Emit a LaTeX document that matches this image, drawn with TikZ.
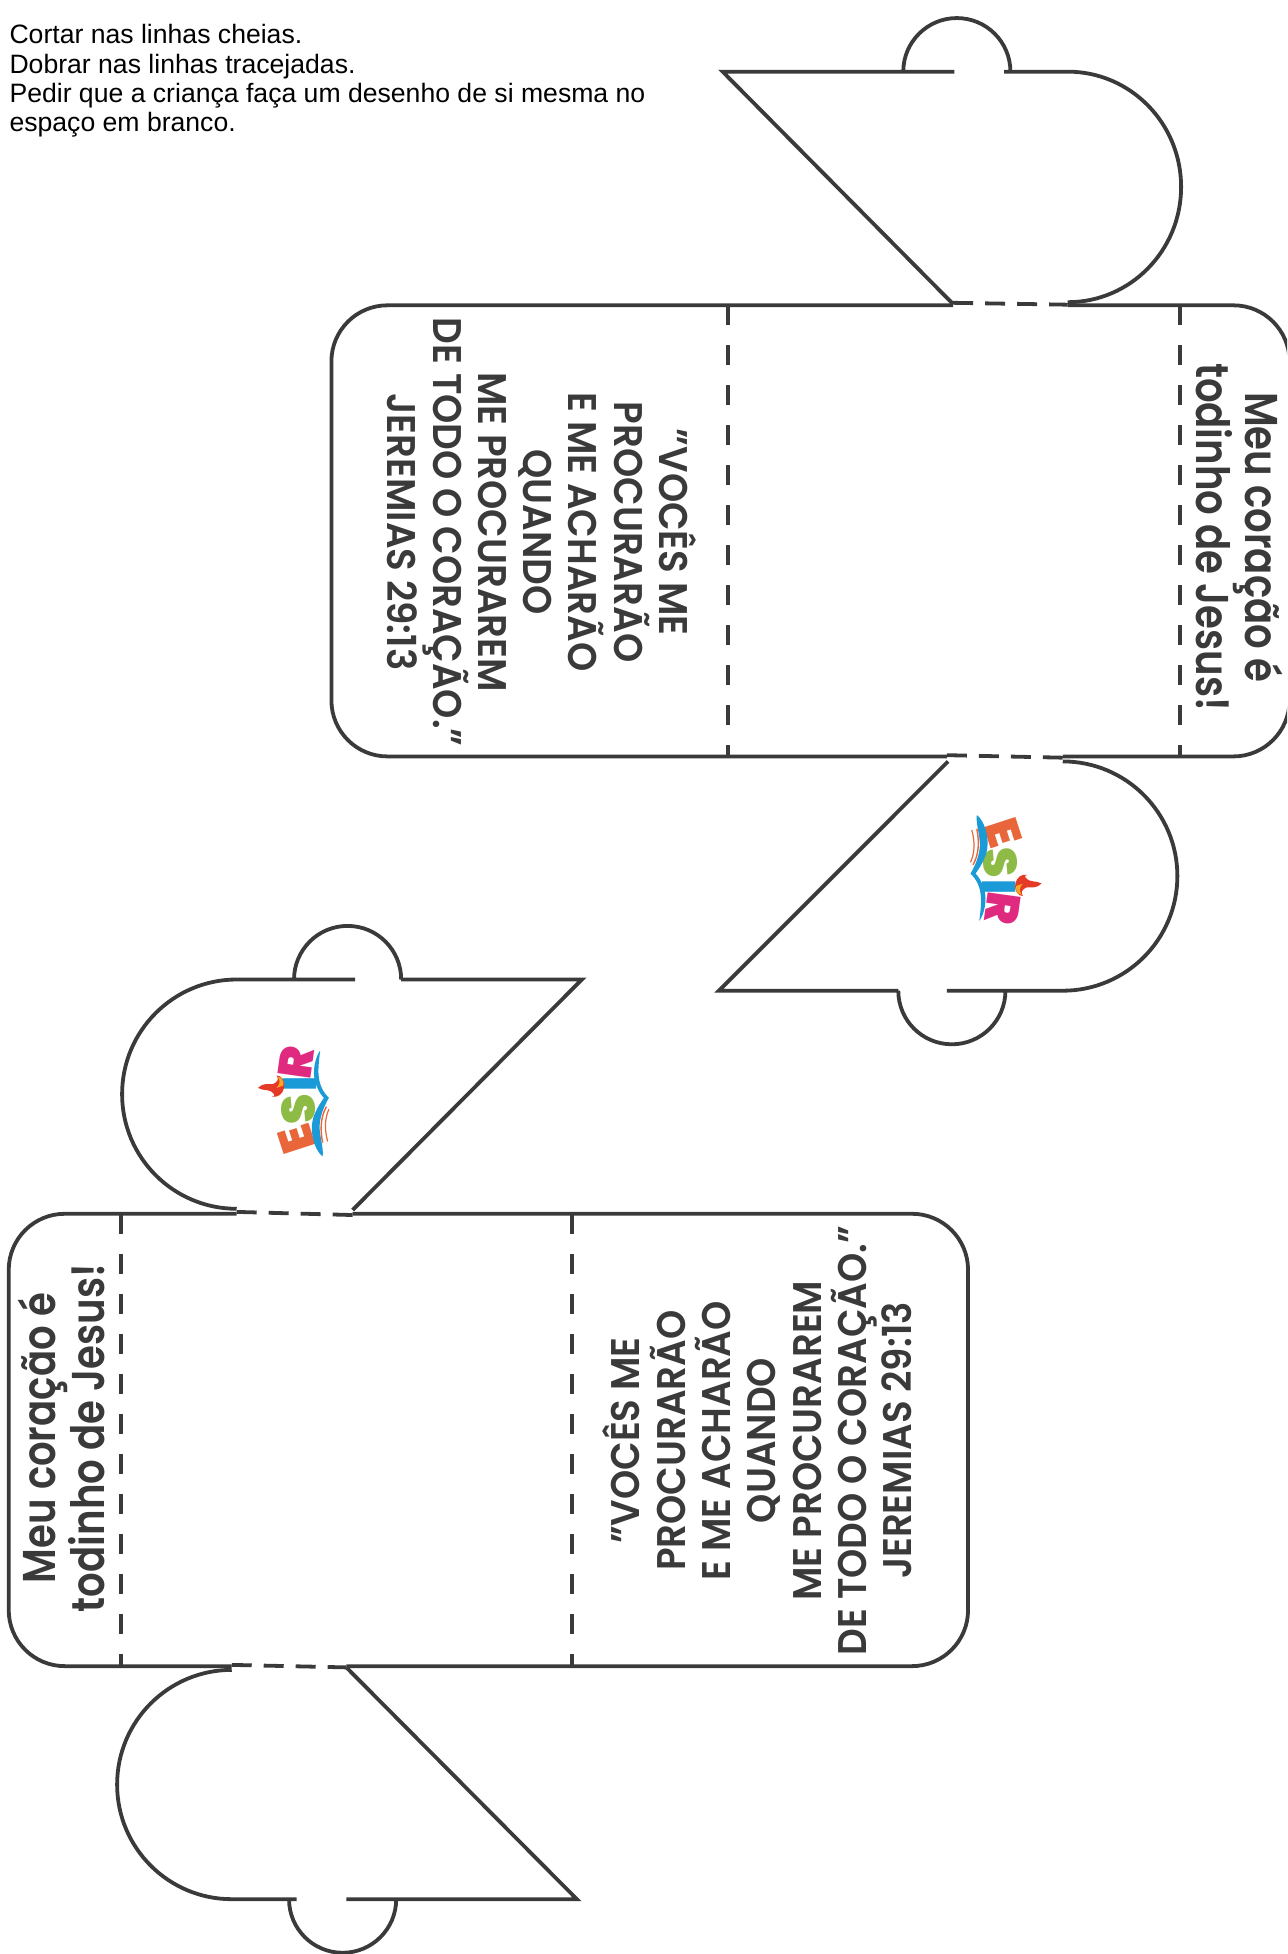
\documentclass[tikz,border=0pt]{standalone}
\usepackage{fontspec}
\setmainfont{Liberation Sans}
\newfontfamily\cardfont{Poppins SemiBold}
\newfontfamily\logofont{Poppins Black}
\definecolor{ink}{HTML}{3A3A3A}
\definecolor{logoE}{HTML}{E8663A}
\definecolor{logoS}{HTML}{8DBB45}
\definecolor{logoI}{HTML}{1A9AD7}
\definecolor{logoR}{HTML}{E02A80}
\definecolor{flameR}{HTML}{E53A28}
\definecolor{flameY}{HTML}{F7A823}
\tikzset{
  cut/.style={draw=ink,line width=3.8pt,line join=miter},
  fold/.style={draw=ink,line width=3.8pt,dash pattern=on 20pt off 20pt},
  hinge/.style={draw=ink,line width=3.8pt,dash pattern=on 20pt off 12pt},
  intro/.style={anchor=north west,align=left,inner sep=0pt,font=\fontsize{26.6}{29.3}\selectfont,text=black},
  title/.style={align=center,inner sep=0pt,text=ink,font=\cardfont\fontsize{46}{47}\selectfont,yscale=.84},
  verse/.style={align=center,inner sep=0pt,text=ink,font=\cardfont\fontsize{40}{45.3}\selectfont,yscale=.93},
  logoletter/.style={inner sep=0pt,font=\logofont\fontsize{47}{47}\selectfont},
  esir/.pic={
    \node[logoletter,text=logoE,rotate=-72] (-E) at (2,-29) {E};
    \node[logoletter,text=logoS,rotate=-85] (-S) at (0,-5) {S};
    \node[logoletter,text=logoI,rotate=-90] (-I) at (-1,15) {I};
    \node[logoletter,text=logoR,rotate=-98] (-R) at (2,32) {R};
    \fill[logoI] (-19,-43) .. controls (-12,-38) and (-7,-20) .. (-13,-8)
      .. controls (-15,-3) and (-18,1) .. (-20,4)
      .. controls (-16,8) and (-12,16) .. (-12,24)
      .. controls (-12,31) and (-14,38) .. (-17,42)
      .. controls (-16,34) and (-15,26) .. (-16,20)
      .. controls (-17,12) and (-21,7) .. (-24,4)
      .. controls (-21,-1) and (-18,-8) .. (-17,-14)
      .. controls (-15,-24) and (-20,-34) .. (-19,-43) -- cycle;
    \draw[logoE,line width=1.4pt] (-19,-32) .. controls (-17,-22) and (-17,-12) .. (-22,-3);
    \draw[logoE,line width=1.2pt] (-23,-31) .. controls (-20,-20) and (-21,-12) .. (-24,-5);
    \fill[flameR] (33,12) .. controls (28,9) and (24,12) .. (20,7)
      .. controls (19,6) and (20,5) .. (22,5)
      .. controls (17,4) and (13,7) .. (12,12)
      .. controls (11,18) and (14,22) .. (18,22)
      .. controls (16,19) and (17,17) .. (21,15)
      .. controls (25,15) and (29,16) .. (33,12) -- cycle;
    \fill[flameY] (12.5,14) .. controls (12,18) and (14,20.5) .. (17,21)
      .. controls (15,18) and (15,15) .. (18,12) -- cycle;
  }
}
\begin{document}
\begin{tikzpicture}[x=1.24588pt,y=-1.24617pt]
\useasboundingbox (0,0) rectangle (1033,1568);
\clip (0,0) rectangle (1033,1568);

\node[intro] (instructions) at (7.5,19.5) {Cortar nas linhas cheias.\\Dobrar nas linhas tracejadas.\\Pedir que a criança faça um desenho de si mesma no\\espaço em branco.};

% upper card
\draw[cut] (765,245) -- (311,245) arc[start angle=-90,end angle=-180,radius=45] -- (266,562)
  arc[start angle=180,end angle=90,radius=45] -- (760,607);
\draw[cut] (853,607) -- (990,607) arc[start angle=90,end angle=0,radius=45] -- (1035,290)
  arc[start angle=0,end angle=-90,radius=45] -- (857,245);
\draw[fold] (584,245) -- (584,607);
\draw[fold] (947,245) -- (947,607);
% upper card, top flap
\draw[cut] (766,57.5) -- (580,57.5) -- (765,244);
\draw[cut] (806,57.5) -- (857,57.5) arc[start angle=-90,end angle=90,x radius=91,y radius=92.5];
\draw[cut] (725,57.5) arc[start angle=180,end angle=360,radius=43];
\draw[hinge] (765,243) -- (857,244.5);
% upper card, bottom flap
\draw[cut] (721,795) -- (577,795) -- (761,611);
\draw[cut] (760,795) -- (853,795) arc[start angle=90,end angle=-90,radius=92];
\draw[cut] (721,795) arc[start angle=180,end angle=0,radius=43];
\draw[hinge] (760,606) -- (853,608);
\pic (logoA) at (803,697) {esir};

\node[title,rotate=-90] (titleA) at (995,431) {Meu coração é\\todinho de Jesus!};
\node[verse,rotate=-90] (verseA) at (435,427) {”VOCÊS ME\\PROCURARÃO\\E ME ACHARÃO\\QUANDO\\ME PROCURAREM\\DE TODO O CORAÇÃO.”\\JEREMIAS 29:13};

% lower card
\draw[cut] (283,974) -- (732,974) arc[start angle=-90,end angle=0,radius=45] -- (777,1292)
  arc[start angle=0,end angle=90,radius=45] -- (278,1337);
\draw[cut] (186,1337) -- (52,1337) arc[start angle=90,end angle=180,radius=45] -- (7,1019)
  arc[start angle=180,end angle=270,radius=45] -- (190,974);
\draw[fold] (97,974) -- (97,1337);
\draw[fold] (459,974) -- (459,1337);
% lower card, top flap
\draw[cut] (285,786) -- (190,786) arc[start angle=-90,end angle=-270,radius=92];
\draw[cut] (322,786) -- (467,786) -- (283,971);
\draw[cut] (236,786) arc[start angle=180,end angle=360,radius=43];
\draw[hinge] (190,972.5) -- (283,975);
\pic[rotate=180,transform shape] (logoB) at (240,885) {esir};
% lower card, bottom flap
\draw[cut] (238,1524) -- (186,1524) arc[start angle=90,end angle=270,radius=92];
\draw[cut] (278,1524) -- (463,1524) -- (278,1338);
\draw[cut] (232,1524) arc[start angle=180,end angle=0,radius=43];
\draw[hinge] (186,1336) -- (278,1338);

\node[title,rotate=90] (titleB) at (49.5,1154) {Meu coração é\\todinho de Jesus!};
\node[verse,rotate=90] (verseB) at (608,1156) {”VOCÊS ME\\PROCURARÃO\\E ME ACHARÃO\\QUANDO\\ME PROCURAREM\\DE TODO O CORAÇÃO.”\\JEREMIAS 29:13};
\end{tikzpicture}
\end{document}
